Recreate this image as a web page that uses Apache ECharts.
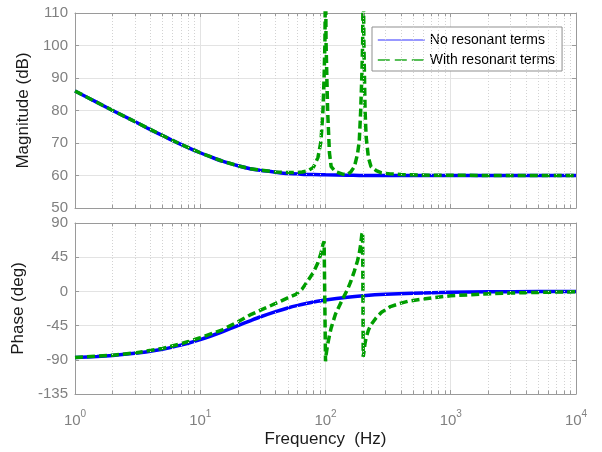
<!DOCTYPE html>
<html>
<head>
<meta charset="utf-8">
<script src="https://cdn.jsdelivr.net/npm/echarts@6/dist/echarts.min.js"></script>
<style>
html,body{margin:0;padding:0;background:#fff;}
#chart{width:602px;height:452px;}
</style>
</head>
<body>
<div id="chart"></div>
<script>
// ---- data ----
const freqNoRes = [1, 1.5, 2, 3, 4, 5, 6, 7, 8, 10, 12, 15, 20, 25, 30, 40, 50, 60, 70, 80, 100, 150, 200, 300, 500, 1000, 2000, 5000, 10000];
const magNoRes = [86.0, 82.5, 80.0, 76.6, 74.1, 72.3, 70.8, 69.6, 68.6, 67.0, 65.8, 64.4, 63.0, 62.1, 61.6, 61.0, 60.6, 60.5, 60.3, 60.3, 60.2, 60.1, 60.0, 60.0, 60.0, 60.0, 60.0, 60.0, 60.0];
const phaseNoRes = [-87.1, -85.7, -84.3, -81.5, -78.7, -76.0, -73.3, -70.7, -68.2, -63.4, -59.0, -53.1, -45.0, -38.7, -33.7, -26.6, -21.8, -18.4, -15.9, -14.0, -11.3, -7.6, -5.7, -3.8, -2.3, -1.1, -0.6, -0.2, -0.1];

const freqRes = [1, 2, 3, 5, 7, 10, 15, 20, 25, 30, 40, 50, 58, 65, 72, 80, 87, 92, 95.5, 97.5, 99, 100, 101, 104, 107.5, 111, 120, 137, 150, 160, 170, 180, 186, 191, 195, 198, 200, 202.5, 207, 211, 220, 231, 254, 280, 330, 400, 460, 720, 1000, 1800, 3000, 6200, 10000];
const magRes = [86.0, 80.0, 76.6, 72.3, 69.6, 67.0, 64.4, 63.0, 62.1, 61.7, 61.1, 60.9, 60.9, 61.1, 61.4, 62.5, 65.5, 70.5, 80.3, 90.6, 101, 125, 101, 80, 67, 62.7, 61.2, 60.4, 60.3, 61.2, 62.7, 66.5, 70.5, 80, 90.6, 101, 125, 101, 80, 72, 65.5, 62.7, 61.5, 60.8, 60.5, 60.3, 60.2, 60.1, 60.1, 60.0, 60.0, 60.0, 60.0];
const phaseRes = [-86.9, -84.0, -81.0, -75.0, -69.0, -61.0, -50.5, -40.0, -31.0, -25.0, -15.8, -8.5, -3.9, 3.0, 13.6, 25.0, 37.7, 50.0, 62.0, 66.0, 67.0, -92.0, -84.0, -70.0, -58.0, -48.0, -30.0, -10.0, 2.6, 14.0, 26.7, 40.0, 50.0, 62.0, 75.0, 78.0, -86.0, -80.0, -68.0, -61.0, -51.0, -44.0, -34.6, -27.5, -20.0, -15.5, -12.8, -8.3, -5.8, -3.5, -2.2, -1.0, -0.6];

const seriesNames = ['No resonant terms', 'With resonant terms'];
const minorFreq = [2,3,4,5,6,7,8,9, 20,30,40,50,60,70,80,90, 200,300,400,500,600,700,800,900, 2000,3000,4000,5000,6000,7000,8000,9000];
const magTicks = {min: 50, max: 110, interval: 10};
const phaseTicks = {min: -135, max: 90, interval: 45};
const freqRange = {min: 1, max: 10000};

// ---- style ----
const axisGray = '#9a9a9a';
const labelGray = '#808080';
const gridGray = '#e3e3e3';
const minorGray = '#d2d2d2';
const blue = '#0000ff';
const green = '#009e00';
const font = "'Liberation Sans', Arial, Helvetica, sans-serif";

function pairs(xs, ys) { return xs.map((x, i) => [x, ys[i]]); }

function minorMarks(yMin, yMax, tickLen) {
  const data = minorFreq.map(v => ({xAxis: v}));
  minorFreq.forEach(v => {
    data.push([{coord: [v, yMin], lineStyle: {type: 'solid', color: axisGray}}, {coord: [v, yMin + tickLen]}]);
    data.push([{coord: [v, yMax], lineStyle: {type: 'solid', color: axisGray}}, {coord: [v, yMax - tickLen]}]);
  });
  return {
    silent: true, symbol: ['none', 'none'], label: {show: false},
    lineStyle: {type: [1, 2], color: minorGray, width: 1},
    emphasis: {disabled: true},
    data: data
  };
}

function xAxisMain(gridIndex, showLabels) {
  return {
    type: 'log', logBase: 10, gridIndex: gridIndex, position: 'bottom',
    min: freqRange.min, max: freqRange.max,
    axisLine: {show: true, onZero: false, lineStyle: {color: axisGray, width: 1}},
    axisTick: {show: true, inside: true, length: 4, lineStyle: {color: axisGray}},
    splitLine: {show: true, lineStyle: {color: gridGray, width: 1}},
    axisLabel: showLabels ? {
      show: true, margin: 15, color: labelGray, fontFamily: font,
      formatter: function (v) { return '{b|10}{s|' + Math.round(Math.log10(v)) + '}'; },
      rich: {
        b: {fontSize: 15, color: labelGray, fontFamily: font, verticalAlign: 'bottom'},
        s: {fontSize: 10, color: labelGray, fontFamily: font, verticalAlign: 'bottom', padding: [0, 0, 9, 0]}
      }
    } : {show: false},
    name: showLabels ? 'Frequency  (Hz)' : '',
    nameLocation: 'middle', nameGap: 37,
    nameTextStyle: {fontSize: 17, color: '#1a1a1a', fontFamily: font}
  };
}
function xAxisTop(gridIndex) {
  return {
    type: 'log', logBase: 10, gridIndex: gridIndex, position: 'top',
    min: freqRange.min, max: freqRange.max,
    axisLine: {show: true, onZero: false, lineStyle: {color: axisGray, width: 1}},
    axisTick: {show: true, inside: true, length: 4, lineStyle: {color: axisGray}},
    splitLine: {show: false}, axisLabel: {show: false}
  };
}
function yAxisMain(gridIndex, t, name, gap) {
  return {
    type: 'value', gridIndex: gridIndex, position: 'left',
    min: t.min, max: t.max, interval: t.interval,
    axisLine: {show: true, onZero: false, lineStyle: {color: axisGray, width: 1}},
    axisTick: {show: true, inside: true, length: 4, lineStyle: {color: axisGray}},
    splitLine: {show: true, lineStyle: {color: gridGray, width: 1}},
    axisLabel: {show: true, margin: 7, color: labelGray, fontSize: 15, fontFamily: font},
    name: name, nameLocation: 'middle', nameGap: gap, nameRotate: 90,
    nameTextStyle: {fontSize: 17, color: '#1a1a1a', fontFamily: font}
  };
}
function yAxisRight(gridIndex, t) {
  return {
    type: 'value', gridIndex: gridIndex, position: 'right',
    min: t.min, max: t.max, interval: t.interval,
    axisLine: {show: true, onZero: false, lineStyle: {color: axisGray, width: 1}},
    axisTick: {show: true, inside: true, length: 4, lineStyle: {color: axisGray}},
    splitLine: {show: false}, axisLabel: {show: false}
  };
}

const chart = echarts.init(document.getElementById('chart'), null, {renderer: 'canvas'});
chart.setOption({
  animation: false,
  backgroundColor: '#ffffff',
  textStyle: {fontFamily: font},
  grid: [
    {left: 75, right: 26, top: 13, height: 195},
    {left: 75, right: 26, top: 223, height: 171}
  ],
  xAxis: [xAxisMain(0, false), xAxisTop(0), xAxisMain(1, true), xAxisTop(1)],
  yAxis: [
    yAxisMain(0, magTicks, 'Magnitude (dB)', 37), yAxisRight(0, magTicks),
    yAxisMain(1, phaseTicks, 'Phase (deg)', 43), yAxisRight(1, phaseTicks)
  ],
  legend: {
    show: true, orient: 'vertical', left: 372, top: 27,
    padding: [6, 7, 4, 5], itemGap: 6, itemWidth: 47, itemHeight: 14,
    backgroundColor: '#ffffff', borderColor: '#8f8f8f', borderWidth: 1, borderRadius: 0,
    textStyle: {fontSize: 14, color: '#000000', fontFamily: font},
    data: [
      {name: seriesNames[0], lineStyle: {width: 1.2, color: '#3333ff', type: 'solid'}, itemStyle: {opacity: 0, color: 'rgba(0,0,0,0)', borderWidth: 0}},
      {name: seriesNames[1], lineStyle: {width: 1.6, color: '#22aa22', type: [12, 5]}, itemStyle: {opacity: 0, color: 'rgba(0,0,0,0)', borderWidth: 0}}
    ]
  },
  series: [
    {type: 'line', xAxisIndex: 0, yAxisIndex: 0, data: [], z: 1, silent: true, markLine: minorMarks(magTicks.min, magTicks.max, 1.0)},
    {type: 'line', xAxisIndex: 2, yAxisIndex: 2, data: [], z: 1, silent: true, markLine: minorMarks(phaseTicks.min, phaseTicks.max, 4.5)},
    {name: seriesNames[0], type: 'line', xAxisIndex: 0, yAxisIndex: 0, data: pairs(freqNoRes, magNoRes),
      symbol: 'none', smooth: 0.3, clip: true, z: 3, lineStyle: {color: blue, width: 3.5}, itemStyle: {color: blue}},
    {name: seriesNames[1], type: 'line', xAxisIndex: 0, yAxisIndex: 0, data: pairs(freqRes, magRes),
      symbol: 'none', clip: true, z: 4, lineStyle: {color: green, width: 3.5, type: [8, 4]}, itemStyle: {color: green}},
    {name: seriesNames[0], type: 'line', xAxisIndex: 2, yAxisIndex: 2, data: pairs(freqNoRes, phaseNoRes),
      symbol: 'none', smooth: 0.3, clip: true, z: 3, lineStyle: {color: blue, width: 3.5}, itemStyle: {color: blue}},
    {name: seriesNames[1], type: 'line', xAxisIndex: 2, yAxisIndex: 2, data: pairs(freqRes, phaseRes),
      symbol: 'none', clip: true, z: 4, lineStyle: {color: green, width: 3.5, type: [8, 4]}, itemStyle: {color: green}}
  ]
});
</script>
</body>
</html>
